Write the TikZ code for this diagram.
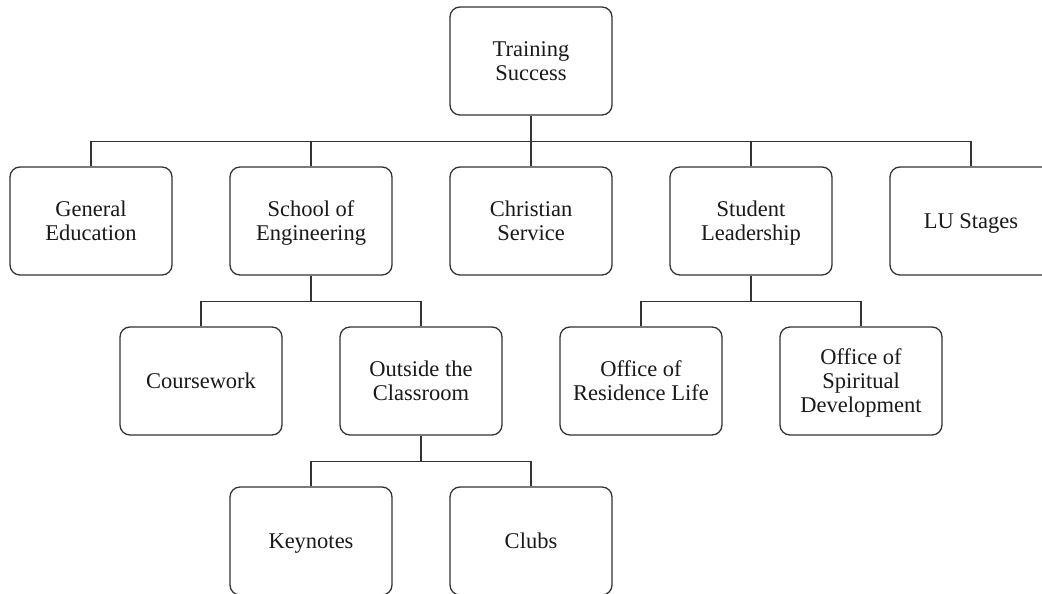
\documentclass[tikz,border=0pt]{standalone}
\usepackage{fontspec}
\setmainfont{Liberation Serif}
\begin{document}
\begin{tikzpicture}[x=1pt,y=-1pt,
  box/.style={draw=black!80, line width=1.3pt, rounded corners=10pt,
    minimum width=162pt, minimum height=108pt, inner sep=0pt,
    align=center, text=black!90, text depth=0pt,
    font=\fontsize{22.5}{24}\selectfont},
  conn/.style={draw=black!80, line width=1.3pt}]
\useasboundingbox (0,0) rectangle (1042,594);
\clip (0,0) rectangle (1042,594);
% row 0
\node[box] (ts) at (531,61) {Training\\Success};
% row 1
\node[box] (ge) at (91,221) {General\\Education};
\node[box] (se) at (311,221) {School of\\Engineering};
\node[box] (cs) at (531,221) {Christian\\Service};
\node[box] (sl) at (751,221) {Student\\Leadership};
\node[box] (lu) at (971,221) {LU Stages};
% row 2
\node[box] (cw) at (201,381) {Coursework};
\node[box] (oc) at (421,381) {Outside the\\Classroom};
\node[box] (rl) at (641,381) {Office of\\Residence Life};
\node[box] (sd) at (861,381) {Office of\\Spiritual\\Development};
% row 3
\node[box] (kn) at (311,541) {Keynotes};
\node[box] (cl) at (531,541) {Clubs};
% connectors
\foreach \t in {ge,se,cs,sl,lu}
  \draw[conn] (ts.south) -- ++(0,26) -| (\t.north);
\foreach \t in {cw,oc}
  \draw[conn] (se.south) -- ++(0,26) -| (\t.north);
\foreach \t in {rl,sd}
  \draw[conn] (sl.south) -- ++(0,26) -| (\t.north);
\foreach \t in {kn,cl}
  \draw[conn] (oc.south) -- ++(0,26) -| (\t.north);
\end{tikzpicture}
\end{document}
